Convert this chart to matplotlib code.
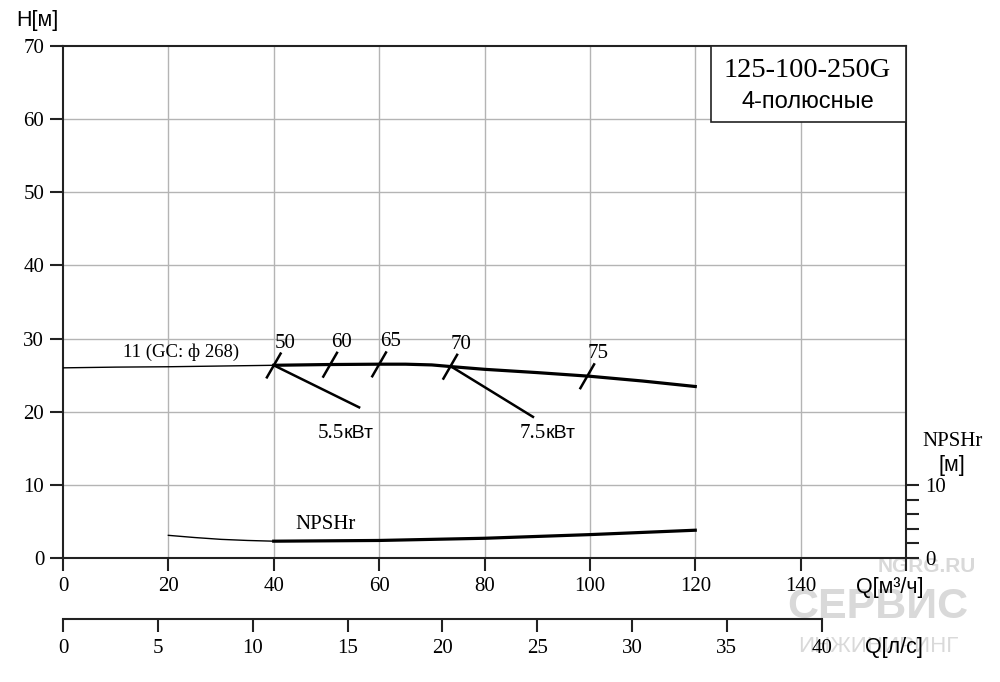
import numpy as np
import matplotlib.pyplot as plt
from matplotlib.patches import Rectangle

# Кривая напора H(Q): тонкий участок и рабочий участок
h_thin_q = [0, 10, 20, 30, 40]
h_thin_h = [26.0, 26.1, 26.15, 26.25, 26.35]
h_q = [40, 50, 60, 65, 70, 74, 80, 90, 100, 110, 120]
h_h = [26.35, 26.45, 26.5, 26.5, 26.4, 26.15, 25.8, 25.35, 24.85, 24.2, 23.45]

# Кривая NPSHr
npsh_thin_q = [20, 25, 30, 35, 40]
npsh_thin_h = [3.1, 2.8, 2.55, 2.4, 2.3]
npsh_q = [40, 60, 80, 100, 120]
npsh_h = [2.3, 2.4, 2.7, 3.2, 3.8]

# Отметки КПД на кривой
eff_labels = ['50', '60', '65', '70', '75']
eff_q = [40, 50.7, 60, 73.5, 99.5]

# Линии мощности двигателя
power_labels = ['5.5', '7.5']
power_start_q = [40, 73.7]
power_end_q = [56.2, 89.2]
power_end_h = [20.6, 19.3]
power_text_q = [53.3, 91.6]
power_text_h = [16.4, 16.4]

x_ticks = [0, 20, 40, 60, 80, 100, 120, 140]
y_ticks = [0, 10, 20, 30, 40, 50, 60, 70]
ls_ticks = [0, 5, 10, 15, 20, 25, 30, 35, 40]

serif = 'Liberation Serif'
sans = 'Liberation Sans'
fs_num = 15
fs_lab = 15.5

fig = plt.figure(figsize=(10, 6.82), dpi=100)
ax = fig.add_axes([0.063, 0.1818, 0.843, 0.7507])
ax.set_xlim(0, 160)
ax.set_ylim(0, 70)

for g in x_ticks[1:]:
    ax.axvline(g, color='#b4b4b4', lw=1, zorder=1)
for g in y_ticks[1:-1]:
    ax.axhline(g, color='#b4b4b4', lw=1, zorder=1)

for s in ax.spines.values():
    s.set_linewidth(1.5)
    s.set_color('#222222')

ax.set_xticks(x_ticks + [160])
ax.set_xticklabels([str(t) for t in x_ticks] + [''], fontfamily=serif, fontsize=fs_num)
ax.set_yticks(y_ticks)
ax.set_yticklabels([str(t) for t in y_ticks], fontfamily=serif, fontsize=fs_num)
ax.tick_params(axis='both', direction='out', length=9.5, width=1.5, pad=4, color='#222222')

# Кривая H
ax.plot(h_thin_q, h_thin_h, color='black', lw=1, zorder=3)
ax.plot(h_q, h_h, color='black', lw=2.3, zorder=3)
ax.text(22.4, 28.2, '11 (GC: ф 268)', fontfamily=serif, fontsize=13.5,
        ha='center', va='center')

# Отметки КПД
for lab, q in zip(eff_labels, eff_q):
    h = np.interp(q, h_q, h_h)
    ax.plot([q - 1.3, q + 1.3], [h - 1.65, h + 1.6], color='black', lw=1.8, zorder=4)
    ax.annotate(lab, (q, h), xytext=(8, 16), textcoords='offset points',
                ha='center', va='center', fontfamily=serif, fontsize=fs_num)

# Линии мощности
for lab, q0, q1, h1, tq, th in zip(power_labels, power_start_q, power_end_q,
                                    power_end_h, power_text_q, power_text_h):
    h0 = np.interp(q0, h_q, h_h)
    ax.plot([q0, q1], [h0, h1], color='black', lw=1.8, zorder=3)
    ax.text(tq, th, lab, fontfamily=serif, fontsize=fs_num, ha='right', va='baseline')
    ax.text(tq, th, 'кВт', fontfamily=sans, fontsize=14, ha='left', va='baseline')

# Кривая NPSHr
ax.plot(npsh_thin_q, npsh_thin_h, color='black', lw=1, zorder=3)
ax.plot(npsh_q, npsh_h, color='black', lw=2.3, zorder=3)
ax.text(49.8, 4.6, 'NPSHr', fontfamily=serif, fontsize=fs_num, ha='center', va='center')

# Правая ось NPSHr
ax_r = ax.twinx()
ax_r.set_ylim(0, 70)
ax_r.set_yticks([0, 2, 4, 6, 8, 10])
ax_r.set_yticklabels(['0', '', '', '', '', '10'], fontfamily=serif, fontsize=fs_num)
ax_r.tick_params(axis='y', direction='out', length=9, width=1.5, pad=5, color='#222222')
for s in ax_r.spines.values():
    s.set_visible(False)
fig.text(0.953, 0.353, 'NPSHr', fontfamily=serif, fontsize=fs_num, ha='center', va='center')
fig.text(0.952, 0.318, '[м]', fontfamily=sans, fontsize=fs_lab, ha='center', va='center')

# Подписи осей
fig.text(0.016, 0.97, 'H[м]', fontfamily=sans, fontsize=fs_lab, ha='left', va='center')
fig.text(0.856, 0.138, 'Q[м³/ч]', fontfamily=sans, fontsize=fs_lab, ha='left', va='center')

# Ось Q в л/с
ax_ls = fig.add_axes([0.063, 0.0923, 0.843, 0.0001])
ax_ls.set_facecolor('none')
ax_ls.set_xlim(0, 160 / 3.6)
for k in ['top', 'left', 'right']:
    ax_ls.spines[k].set_visible(False)
ax_ls.spines['bottom'].set_bounds(0, 40)
ax_ls.spines['bottom'].set_linewidth(1.5)
ax_ls.spines['bottom'].set_color('#222222')
ax_ls.set_yticks([])
ax_ls.set_xticks(ls_ticks)
ax_ls.set_xticklabels([str(t) for t in ls_ticks], fontfamily=serif, fontsize=fs_num)
ax_ls.tick_params(axis='x', direction='out', length=9.5, width=1.5, pad=5, color='#222222')
fig.text(0.865, 0.05, 'Q[л/с]', fontfamily=sans, fontsize=fs_lab, ha='left', va='center')

# Табличка с моделью насоса
box_q = 123.0
ax.add_patch(Rectangle((box_q, 59.6), 160 - box_q, 10.4, facecolor='white',
                       edgecolor='#222222', lw=1.2, zorder=5))
ax.text(141.3, 66.7, '125-100-250G', fontfamily=serif, fontsize=20.5,
        ha='center', va='center', zorder=6)
ax.text(141.3, 62.3, '4-полюсные', fontfamily=sans, fontsize=17,
        ha='center', va='center', zorder=6)

# Водяной знак
wm = '#d9d9d9'
fig.text(0.927, 0.17, 'NGRG.RU', fontfamily=sans, fontsize=15, fontweight='bold',
         color=wm, ha='center', va='center', zorder=-1)
fig.text(0.878, 0.11, 'СЕРВИС', fontfamily=sans, fontsize=31, fontweight='bold',
         color=wm, ha='center', va='center', zorder=-1)
fig.text(0.878, 0.052, 'ИНЖИНИРИНГ', fontfamily=sans, fontsize=16,
         color=wm, ha='center', va='center', zorder=-1)

fig.savefig('out.png', dpi=100)
